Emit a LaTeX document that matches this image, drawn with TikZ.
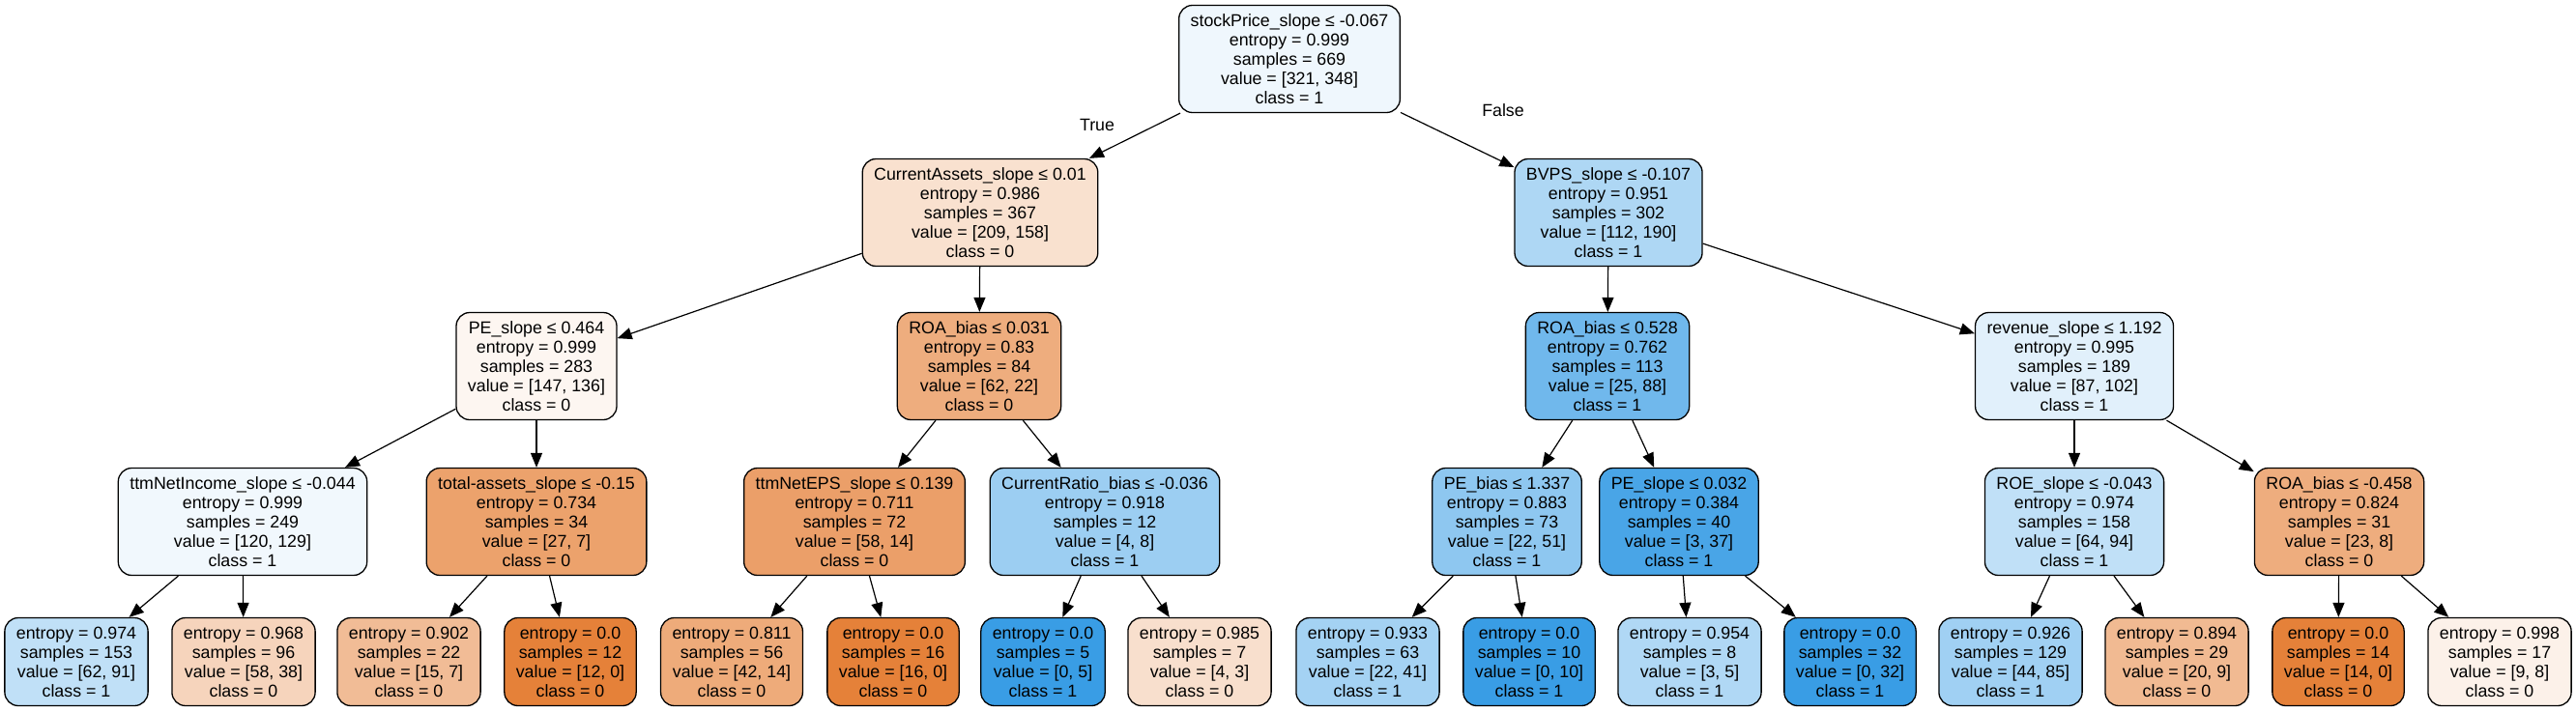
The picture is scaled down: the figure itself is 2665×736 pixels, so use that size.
\documentclass[tikz,border=0pt]{standalone}
\usepackage{fontspec}
\setmainfont{Liberation Sans}
\usetikzlibrary{arrows.meta}
\definecolor{treeorange}{HTML}{E58139}
\definecolor{treeblue}{HTML}{399DE5}
\definecolor{treeline}{HTML}{000000}

\begin{document}
\begin{tikzpicture}[
    x=1pt, y=-1pt,
    every node/.style={font=\fontsize{17.8}{20}\selectfont},
    box/.style={draw=treeline, line width=1.3pt, rounded corners=14pt, align=center, inner xsep=12pt, inner ysep=0pt},
    split/.style={box, minimum height=111pt},
    leaf/.style={box, minimum height=91pt},
    edge/.style={-{Triangle[length=15pt, width=12pt]}, line width=1.2pt, treeline},
]

% Canvas
\useasboundingbox (0,0) rectangle (2665,736);

% --- Root ---
\node[split, fill=treeblue!8!white] (root) at (1334,61)
      {stockPrice\_slope ≤ -0.067\\entropy = 0.999\\samples = 669\\value = [321, 348]\\class = 1};

% --- Depth 1 ---
\node[split, fill=treeorange!24!white] (assets) at (1014,220)
      {CurrentAssets\_slope ≤ 0.01\\entropy = 0.986\\samples = 367\\value = [209, 158]\\class = 0};
\node[split, fill=treeblue!41!white] (bvps) at (1664,220)
      {BVPS\_slope ≤ -0.107\\entropy = 0.951\\samples = 302\\value = [112, 190]\\class = 1};

% --- Depth 2 ---
\node[split, fill=treeorange!7!white] (peslope) at (555,379)
      {PE\_slope ≤ 0.464\\entropy = 0.999\\samples = 283\\value = [147, 136]\\class = 0};
\node[split, fill=treeorange!65!white] (roaleft) at (1013,379)
      {ROA\_bias ≤ 0.031\\entropy = 0.83\\samples = 84\\value = [62, 22]\\class = 0};
\node[split, fill=treeblue!72!white] (roamid) at (1663,379)
      {ROA\_bias ≤ 0.528\\entropy = 0.762\\samples = 113\\value = [25, 88]\\class = 1};
\node[split, fill=treeblue!15!white] (revenue) at (2146,379)
      {revenue\_slope ≤ 1.192\\entropy = 0.995\\samples = 189\\value = [87, 102]\\class = 1};

% --- Depth 3 ---
\node[split, fill=treeblue!7!white] (netincome) at (251,540)
      {ttmNetIncome\_slope ≤ -0.044\\entropy = 0.999\\samples = 249\\value = [120, 129]\\class = 1};
\node[split, fill=treeorange!74!white] (totassets) at (555,540)
      {total-assets\_slope ≤ -0.15\\entropy = 0.734\\samples = 34\\value = [27, 7]\\class = 0};
\node[split, fill=treeorange!76!white] (neteps) at (884,540)
      {ttmNetEPS\_slope ≤ 0.139\\entropy = 0.711\\samples = 72\\value = [58, 14]\\class = 0};
\node[split, fill=treeblue!50!white] (curratio) at (1143,540)
      {CurrentRatio\_bias ≤ -0.036\\entropy = 0.918\\samples = 12\\value = [4, 8]\\class = 1};
\node[split, fill=treeblue!57!white] (pebias) at (1559,540)
      {PE\_bias ≤ 1.337\\entropy = 0.883\\samples = 73\\value = [22, 51]\\class = 1};
\node[split, fill=treeblue!92!white] (peslopetwo) at (1737,540)
      {PE\_slope ≤ 0.032\\entropy = 0.384\\samples = 40\\value = [3, 37]\\class = 1};
\node[split, fill=treeblue!32!white] (roeslope) at (2146,540)
      {ROE\_slope ≤ -0.043\\entropy = 0.974\\samples = 158\\value = [64, 94]\\class = 1};
\node[split, fill=treeorange!65!white] (roaright) at (2420,540)
      {ROA\_bias ≤ -0.458\\entropy = 0.824\\samples = 31\\value = [23, 8]\\class = 0};

% --- Leaves ---
\node[leaf, fill=treeblue!32!white] (leaf1) at (79,685)
      {entropy = 0.974\\samples = 153\\value = [62, 91]\\class = 1};
\node[leaf, fill=treeorange!34!white] (leaf2) at (252,685)
      {entropy = 0.968\\samples = 96\\value = [58, 38]\\class = 0};
\node[leaf, fill=treeorange!53!white] (leaf3) at (423,685)
      {entropy = 0.902\\samples = 22\\value = [15, 7]\\class = 0};
\node[leaf, fill=treeorange] (leaf4) at (590,685)
      {entropy = 0.0\\samples = 12\\value = [12, 0]\\class = 0};
\node[leaf, fill=treeorange!67!white] (leaf5) at (757,685)
      {entropy = 0.811\\samples = 56\\value = [42, 14]\\class = 0};
\node[leaf, fill=treeorange] (leaf6) at (924,685)
      {entropy = 0.0\\samples = 16\\value = [16, 0]\\class = 0};
\node[leaf, fill=treeblue] (leaf7) at (1079,685)
      {entropy = 0.0\\samples = 5\\value = [0, 5]\\class = 1};
\node[leaf, fill=treeorange!25!white] (leaf8) at (1241,685)
      {entropy = 0.985\\samples = 7\\value = [4, 3]\\class = 0};
\node[leaf, fill=treeblue!46!white] (leaf9) at (1415,685)
      {entropy = 0.933\\samples = 63\\value = [22, 41]\\class = 1};
\node[leaf, fill=treeblue] (leaf10) at (1582,685)
      {entropy = 0.0\\samples = 10\\value = [0, 10]\\class = 1};
\node[leaf, fill=treeblue!40!white] (leaf11) at (1748,685)
      {entropy = 0.954\\samples = 8\\value = [3, 5]\\class = 1};
\node[leaf, fill=treeblue] (leaf12) at (1914,685)
      {entropy = 0.0\\samples = 32\\value = [0, 32]\\class = 1};
\node[leaf, fill=treeblue!48!white] (leaf13) at (2080,685)
      {entropy = 0.926\\samples = 129\\value = [44, 85]\\class = 1};
\node[leaf, fill=treeorange!55!white] (leaf14) at (2252,685)
      {entropy = 0.894\\samples = 29\\value = [20, 9]\\class = 0};
\node[leaf, fill=treeorange] (leaf15) at (2419,685)
      {entropy = 0.0\\samples = 14\\value = [14, 0]\\class = 0};
\node[leaf, fill=treeorange!11!white] (leaf16) at (2586,685)
      {entropy = 0.998\\samples = 17\\value = [9, 8]\\class = 0};

% --- Edges ---
\draw[edge] (root) -- (assets);
\draw[edge] (root) -- (bvps);
\node (truelbl) at (1135,129) {True};
\node (falselbl) at (1555,114) {False};

\draw[edge] (assets) -- (peslope);
\draw[edge] (assets) -- (roaleft);
\draw[edge] (bvps) -- (roamid);
\draw[edge] (bvps) -- (revenue);

\draw[edge] (peslope) -- (netincome);
\draw[edge] (peslope) -- (totassets);
\draw[edge] (roaleft) -- (neteps);
\draw[edge] (roaleft) -- (curratio);
\draw[edge] (roamid) -- (pebias);
\draw[edge] (roamid) -- (peslopetwo);
\draw[edge] (revenue) -- (roeslope);
\draw[edge] (revenue) -- (roaright);

% leaves
\draw[edge] (netincome) -- (leaf1);
\draw[edge] (netincome) -- (leaf2);
\draw[edge] (totassets) -- (leaf3);
\draw[edge] (totassets) -- (leaf4);
\draw[edge] (neteps) -- (leaf5);
\draw[edge] (neteps) -- (leaf6);
\draw[edge] (curratio) -- (leaf7);
\draw[edge] (curratio) -- (leaf8);
\draw[edge] (pebias) -- (leaf9);
\draw[edge] (pebias) -- (leaf10);
\draw[edge] (peslopetwo) -- (leaf11);
\draw[edge] (peslopetwo) -- (leaf12);
\draw[edge] (roeslope) -- (leaf13);
\draw[edge] (roeslope) -- (leaf14);
\draw[edge] (roaright) -- (leaf15);
\draw[edge] (roaright) -- (leaf16);

\end{tikzpicture}
\end{document}
